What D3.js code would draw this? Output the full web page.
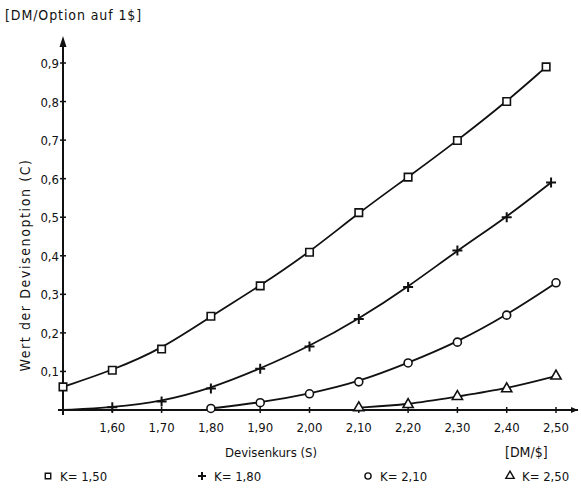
<!DOCTYPE html>
<html>
<head>
<meta charset="utf-8">
<script src="https://cdn.jsdelivr.net/npm/d3@7"></script>
<style>
  body { margin: 0; background: #fff; }
  text { font-family: "DejaVu Sans Condensed", "DejaVu Sans", sans-serif; fill: #111; }
</style>
</head>
<body>
<div id="chart"></div>
<script>
// data
const kursK150 = [1.50, 1.60, 1.70, 1.80, 1.90, 2.00, 2.10, 2.20, 2.30, 2.40, 2.48];
const wertK150 = [0.06, 0.103, 0.158, 0.243, 0.322, 0.409, 0.512, 0.604, 0.699, 0.80, 0.89];
const kursK180 = [1.50, 1.60, 1.70, 1.80, 1.90, 2.00, 2.10, 2.20, 2.30, 2.40, 2.49];
const wertK180 = [0.0, 0.007, 0.022, 0.056, 0.107, 0.165, 0.236, 0.319, 0.414, 0.50, 0.59];
const kursK210 = [1.80, 1.90, 2.00, 2.10, 2.20, 2.30, 2.40, 2.50];
const wertK210 = [0.004, 0.019, 0.042, 0.073, 0.122, 0.176, 0.246, 0.33];
const kursK250 = [2.10, 2.20, 2.30, 2.40, 2.50];
const wertK250 = [0.006, 0.014, 0.035, 0.055, 0.088];
const xTicks = [1.60, 1.70, 1.80, 1.90, 2.00, 2.10, 2.20, 2.30, 2.40, 2.50];
const yTicks = [0.1, 0.2, 0.3, 0.4, 0.5, 0.6, 0.7, 0.8, 0.9];

const series = [
  { name: "K= 1,50", sym: "square", x: kursK150, y: wertK150 },
  { name: "K= 1,80", sym: "cross", x: kursK180, y: wertK180 },
  { name: "K= 2,10", sym: "circle", x: kursK210, y: wertK210 },
  { name: "K= 2,50", sym: "triangle", x: kursK250, y: wertK250 }
];

const width = 581, height = 496;

const x = d3.scaleLinear().domain([1.5, 2.5]).range([63, 556]);
const y = d3.scaleLinear().domain([0, 0.9]).range([410, 63]);

const svg = d3.select("#chart").append("svg")
  .attr("width", width)
  .attr("height", height);

const fmt = d => d3.format(".2f")(d).replace(".", ",");
const fmtY = d => d3.format(".1f")(d).replace(".", ",");

// axes
svg.append("line")
  .attr("x1", x(1.5)).attr("x2", 578)
  .attr("y1", y(0)).attr("y2", y(0))
  .attr("stroke", "#111").attr("stroke-width", 2);
svg.append("path")
  .attr("d", `M578,${y(0)} l-7,-3 l0,6 z`)
  .attr("fill", "#111");

svg.append("line")
  .attr("x1", x(1.5)).attr("x2", x(1.5))
  .attr("y1", y(0)).attr("y2", 40)
  .attr("stroke", "#111").attr("stroke-width", 2);
svg.append("path")
  .attr("d", `M${x(1.5)},36 l-3.5,11 l7,0 z`)
  .attr("fill", "#111");

// ticks
svg.selectAll(".xt").data(xTicks).join("line")
  .attr("x1", d => x(d)).attr("x2", d => x(d))
  .attr("y1", y(0) - 3).attr("y2", y(0) + 3)
  .attr("stroke", "#111").attr("stroke-width", 1.5);
svg.selectAll(".xl").data(xTicks).join("text")
  .attr("x", d => x(d)).attr("y", 432)
  .attr("text-anchor", "middle")
  .attr("font-size", 13)
  .text(fmt);

svg.selectAll(".yt").data(yTicks).join("line")
  .attr("x1", x(1.5) - 3).attr("x2", x(1.5) + 3)
  .attr("y1", d => y(d)).attr("y2", d => y(d))
  .attr("stroke", "#111").attr("stroke-width", 1.5);
svg.selectAll(".yl").data(yTicks).join("text")
  .attr("x", 59).attr("y", d => y(d) + 5)
  .attr("text-anchor", "end")
  .attr("font-size", 13)
  .text(fmtY);

// axis titles
svg.append("text")
  .attr("x", 5).attr("y", 20)
  .attr("font-size", 14)
  .attr("letter-spacing", 0.9)
  .text("[DM/Option auf 1$]");
svg.append("text")
  .attr("transform", "translate(30,265) rotate(-90)")
  .attr("text-anchor", "middle")
  .attr("font-size", 14)
  .attr("letter-spacing", 1.6)
  .text("Wert der Devisenoption (C)");
svg.append("text")
  .attr("x", 271).attr("y", 457)
  .attr("text-anchor", "middle")
  .attr("font-size", 13)
  .text("Devisenkurs (S)");
svg.append("text")
  .attr("x", 505).attr("y", 457)
  .attr("font-size", 14)
  .text("[DM/$]");

// curves (hand-drawn smooth fit through the points)
const line = d3.line()
  .x(d => x(d[0])).y(d => y(d[1]))
  .curve(d3.curveBasis);

const symbols = {
  square: d3.symbol(d3.symbolSquare, 56),
  circle: d3.symbol(d3.symbolCircle, 50),
  triangle: d3.symbol(d3.symbolTriangle, 45)
};

function drawMarker(g, sym, cx, cy) {
  if (sym === "cross") {
    g.append("path")
      .attr("d", `M${cx - 5},${cy} h10 M${cx},${cy - 5} v10`)
      .attr("stroke", "#111").attr("stroke-width", 2);
  } else {
    g.append("path")
      .attr("d", symbols[sym]())
      .attr("transform", `translate(${cx},${cy})`)
      .attr("fill", "#fff")
      .attr("stroke", "#111")
      .attr("stroke-width", 1.6);
  }
}

series.forEach(s => {
  const pts = s.x.map((v, i) => [v, s.y[i]]);
  svg.append("path")
    .attr("d", line(pts))
    .attr("fill", "none")
    .attr("stroke", "#111")
    .attr("stroke-width", 1.8);
  const g = svg.append("g");
  pts.forEach(p => drawMarker(g, s.sym, x(p[0]), y(p[1])));
});

// legend
const legendX = [48, 202, 368, 510];
series.forEach((s, i) => {
  const g = svg.append("g");
  if (s.sym === "cross") {
    g.append("path")
      .attr("d", `M${legendX[i] - 4},476 h8 M${legendX[i]},472 v8`)
      .attr("stroke", "#111").attr("stroke-width", 2);
  } else {
    g.append("path")
      .attr("d", d3.symbol(s.sym === "square" ? d3.symbolSquare : s.sym === "circle" ? d3.symbolCircle : d3.symbolTriangle, 30)())
      .attr("transform", `translate(${legendX[i]},476)`)
      .attr("fill", "#fff").attr("stroke", "#111").attr("stroke-width", 1.4);
  }
  g.append("text")
    .attr("x", legendX[i] + 12).attr("y", 481)
    .attr("font-size", 13)
    .text(s.name);
});
</script>
</body>
</html>
